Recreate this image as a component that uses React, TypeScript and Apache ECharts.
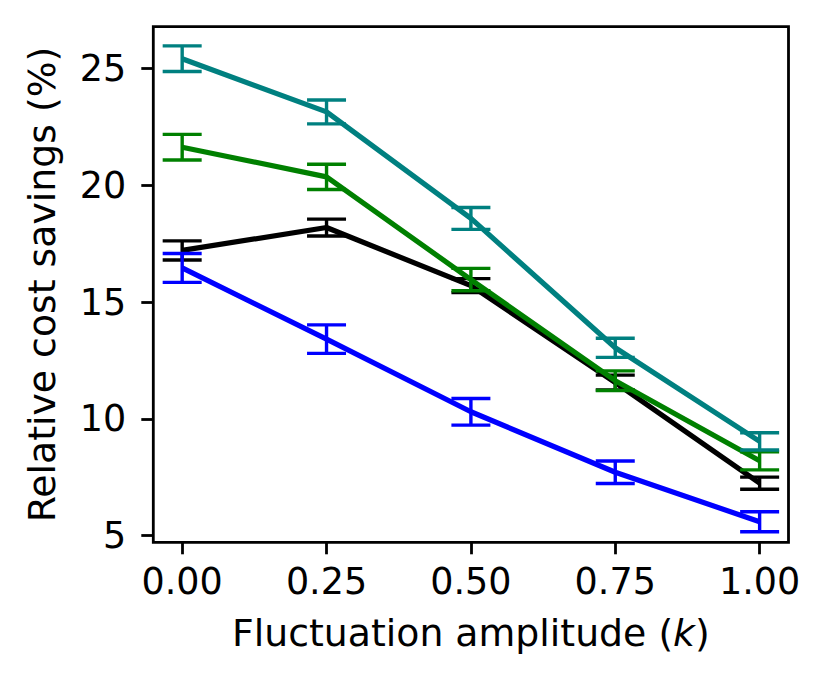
import React, { useEffect, useRef } from "react";
import * as echarts from "echarts";

const kValues = [0, 0.25, 0.5, 0.75, 1.0];
const xTicks = [0, 0.25, 0.5, 0.75, 1.0];
const yTicks = [5, 10, 15, 20, 25];

const tealMean = [25.42, 23.14, 18.58, 13.04, 9.03];
const tealErr = [0.55, 0.51, 0.47, 0.41, 0.37];
const greenMean = [21.63, 20.36, 15.96, 11.63, 8.2];
const greenErr = [0.55, 0.54, 0.48, 0.42, 0.39];
const blackMean = [17.21, 18.19, 15.7, 11.55, 7.24];
const blackErr = [0.41, 0.36, 0.3, 0.32, 0.26];
const blueMean = [16.46, 13.41, 10.3, 7.71, 5.59];
const blueErr = [0.62, 0.61, 0.57, 0.48, 0.43];

const FONT = "DejaVu Sans";
const FS_TICK = 36.5;
const FS_TITLE = 37.8;

const groups = [
  { name: "Series 1", color: "#000000", mean: blackMean, err: blackErr },
  { name: "Series 2", color: "#0000ff", mean: blueMean, err: blueErr },
  { name: "Series 3", color: "#008000", mean: greenMean, err: greenErr },
  { name: "Series 4", color: "#008080", mean: tealMean, err: tealErr },
];

export default function App() {
  const ref = useRef<HTMLDivElement>(null);
  useEffect(() => {
    if (!ref.current) return;
    const chart = echarts.init(ref.current, undefined, { renderer: "svg" });
    const series: any[] = [];
    groups.forEach((g, gi) => {
      series.push({
        name: g.name,
        type: "line",
        data: kValues.map((k, i) => [k, g.mean[i]]),
        symbol: "none",
        lineStyle: { color: g.color, width: 5.2 },
        z: 2 + gi * 2,
      });
      series.push({
        name: g.name + " error",
        type: "custom",
        data: kValues.map((k, i) => [k, g.mean[i] - g.err[i], g.mean[i] + g.err[i]]),
        encode: { x: 0, y: [1, 2] },
        z: 3 + gi * 2,
        renderItem: (params: any, api: any) => {
          const x = api.value(0);
          const lo = api.coord([x, api.value(1)]);
          const hi = api.coord([x, api.value(2)]);
          const hw = 19.5;
          const st = { stroke: g.color, lineWidth: 3.4 };
          return {
            type: "group",
            children: [
              { type: "line", shape: { x1: hi[0], y1: hi[1], x2: lo[0], y2: lo[1] }, style: st },
              { type: "line", shape: { x1: hi[0] - hw, y1: hi[1], x2: hi[0] + hw, y2: hi[1] }, style: st },
              { type: "line", shape: { x1: lo[0] - hw, y1: lo[1], x2: lo[0] + hw, y2: lo[1] }, style: st },
            ],
          };
        },
      });
    });
    chart.setOption({
      animation: false,
      backgroundColor: "#ffffff",
      grid: {
        left: 153.3,
        top: 26.7,
        right: 829 - 788.5,
        bottom: 690 - 542.3,
        show: true,
        borderColor: "#000",
        borderWidth: 2.8,
        containLabel: false,
      },
      xAxis: {
        type: "value",
        min: -0.05,
        max: 1.05,
        name: "Fluctuation amplitude ({i|k})",
        nameLocation: "middle",
        nameGap: 72,
        nameTextStyle: {
          fontFamily: FONT,
          fontSize: FS_TITLE,
          color: "#000",
          rich: { i: { fontFamily: FONT, fontSize: FS_TITLE, fontStyle: "italic", color: "#000" } },
        },
        axisLine: { show: false, onZero: false },
        axisTick: { show: true, length: 12, lineStyle: { color: "#000", width: 2.8 }, customValues: xTicks },
        axisLabel: {
          customValues: xTicks,
          formatter: (v: number) => v.toFixed(2),
          fontFamily: FONT,
          fontSize: FS_TICK,
          color: "#000",
          margin: 21,
        },
        splitLine: { show: false },
      },
      yAxis: {
        type: "value",
        min: 4.71,
        max: 26.79,
        name: "Relative cost savings (%)",
        nameLocation: "middle",
        nameGap: 92,
        nameTextStyle: { fontFamily: FONT, fontSize: FS_TITLE, color: "#000" },
        axisLine: { show: false, onZero: false },
        axisTick: { show: true, length: 12, lineStyle: { color: "#000", width: 2.8 }, customValues: yTicks },
        axisLabel: {
          customValues: yTicks,
          formatter: (v: number) => String(v),
          fontFamily: FONT,
          fontSize: FS_TICK,
          color: "#000",
          margin: 27,
        },
        splitLine: { show: false },
      },
      series,
    });
    return () => chart.dispose();
  }, []);
  return (
    <div
      ref={ref}
      style={{ position: "absolute", left: 0, top: 0, width: 829, height: 690 }}
    />
  );
}
